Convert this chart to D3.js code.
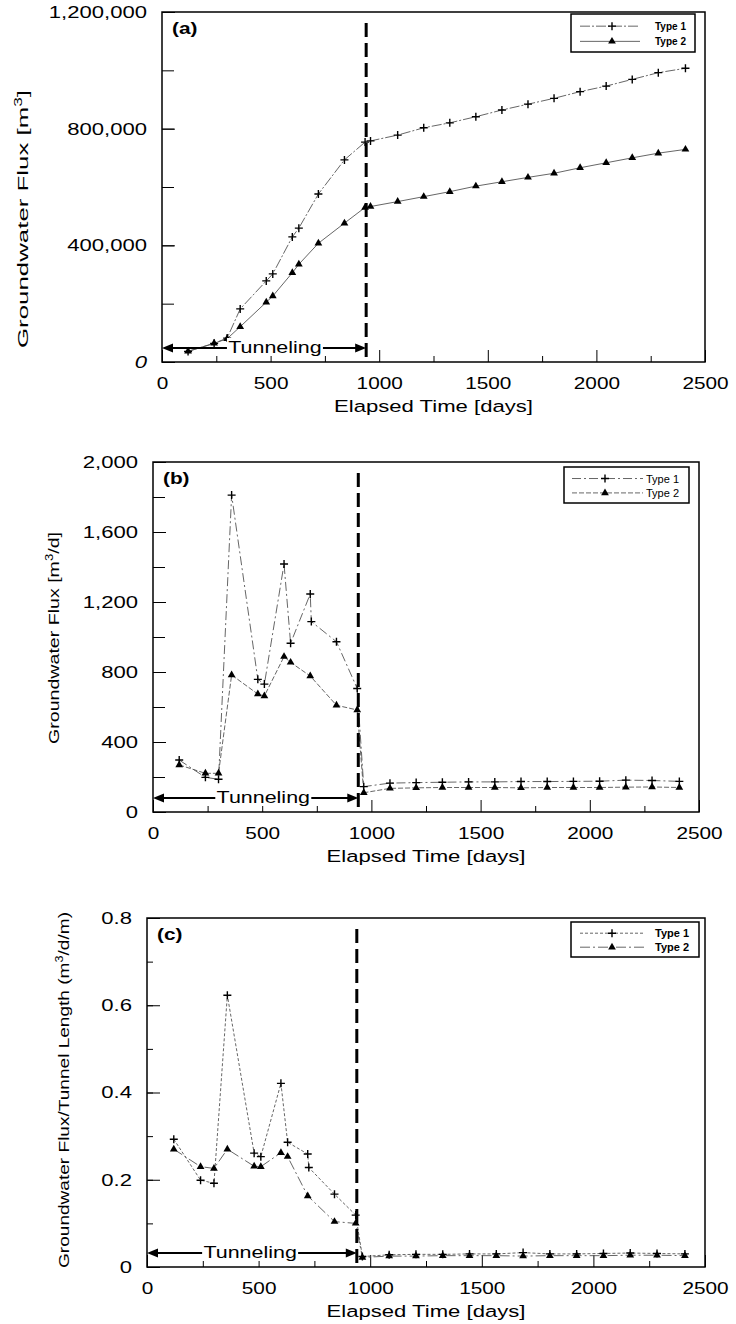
<!DOCTYPE html>
<html>
<head>
<meta charset="utf-8">
<script src="https://cdn.jsdelivr.net/npm/d3@7"></script>
<style>
  body { margin: 0; background: #fff; }
  text { font-family: Arial, "Liberation Sans", sans-serif; fill: #000; }
</style>
</head>
<body>
<div id="chart"></div>
<script>
// values (days since start of tunneling)
var daysA = [120, 240, 300, 360, 480, 510, 600, 630, 720, 840, 935, 960,
  1085, 1205, 1325, 1445, 1565, 1685, 1805, 1925, 2045, 2165, 2285, 2410];
var type1A = [36000, 64000, 82000, 182000, 278000, 302000, 429000, 459000, 576000, 693000, 754000, 758000,
  778000, 803000, 820000, 841000, 864000, 884000, 904000, 927000, 946000, 969000, 992000, 1007000];
var type2A = [37000, 64000, 80000, 121000, 205000, 226000, 306000, 335000, 407000, 476000, 530000, 533000,
  550000, 567000, 584000, 603000, 618000, 633000, 647000, 666000, 683000, 700000, 716000, 729000];

var daysBC = [120, 240, 300, 360, 480, 510, 600, 630, 720, 725, 840, 935, 965,
  1085, 1205, 1325, 1445, 1565, 1685, 1805, 1925, 2045, 2165, 2285, 2410];
var type1B = [297, 198, 187, 1811, 758, 731, 1417, 964, 1246, 1088, 973, 706, 145,
  165, 168, 170, 172, 172, 174, 174, 175, 176, 182, 180, 175];
var type2B = [269, 221, 221, 783, 674, 663, 888, 855, 777, null, 610, 583, 110,
  135, 138, 140, 140, 140, 138, 140, 140, 140, 142, 143, 140];

var type1C = [0.293, 0.199, 0.192, 0.623, 0.261, 0.253, 0.421, 0.286, 0.259, 0.228, 0.167, 0.119, 0.024,
  0.028, 0.029, 0.029, 0.030, 0.030, 0.033, 0.030, 0.030, 0.031, 0.032, 0.031, 0.030];
var type2C = [0.270, 0.230, 0.226, 0.270, 0.231, 0.230, 0.262, 0.253, 0.163, null, 0.104, 0.100, 0.022,
  0.025, 0.025, 0.026, 0.026, 0.026, 0.025, 0.026, 0.026, 0.026, 0.027, 0.027, 0.026];

var xTicks = [0, 500, 1000, 1500, 2000, 2500];
var yTicksA = [0, 400000, 800000, 1200000];
var yTicksB = [0, 400, 800, 1200, 1600, 2000];
var yTicksC = [0, 0.2, 0.4, 0.6, 0.8];
var seriesNames = ["Type 1", "Type 2"];
var tunnelEnd = 940;   // end of tunneling (dashed line)

var svgWidth = 736;
var svgHeight = 1324;
var SX = 1.3;   // the scanned figure has its lettering stretched sideways

var svg = d3.select("#chart")
  .append("svg")
  .attr("width", svgWidth)
  .attr("height", svgHeight);

svg.append("rect").attr("width", svgWidth).attr("height", svgHeight).attr("fill", "#fff");

var panels = [
  { tag: "(a)", left: 162, right: 705, top: 12, bottom: 362,
    days: daysA, s1: type1A, s2: type2A, yMax: 1200000, yTicks: yTicksA, yMinorStep: 200000,
    fmt: d3.format(","), minorLen: 12, italicZero: true,
    ylabel: ["Groundwater Flux [m", "3", "]"], ylx: 23, lyc: 219, ylen: 258,
    legend: { x: 571, y: 14, w: 124, h: 38, lx1: 580, lx2: 640, mx: 612, tx: 655, bold: true, fs: 10 },
    tunnelMid: 520, dash1: "10,2,2,2", dash2: null },
  { tag: "(b)", left: 153, right: 699, top: 462, bottom: 812,
    days: daysBC, s1: type1B, s2: type2B, yMax: 2000, yTicks: yTicksB, yMinorStep: 200,
    fmt: d3.format(","), minorLen: 12,
    ylabel: ["Groundwater Flux [m", "3", "/d]"], ylx: 54, lyc: 638, ylen: 212,
    legend: { x: 564, y: 467, w: 125, h: 36, lx1: 572, lx2: 643, mx: 605, tx: 646, bold: false, fs: 11 },
    tunnelMid: 505, dash1: "9,3,2,3", dash2: "5,2" },
  { tag: "(c)", left: 147, right: 705, top: 918, bottom: 1267,
    days: daysBC, s1: type1C, s2: type2C, yMax: 0.8, yTicks: yTicksC, yMinorStep: 0.1,
    fmt: d3.format(".1f"), minorLen: 6,
    ylabel: ["Groundwater Flux/Tunnel Length (m", "3", "/d/m)"], ylx: 64, lyc: 1090, ylen: 356,
    legend: { x: 571, y: 922, w: 128, h: 35, lx1: 580, lx2: 645, mx: 612, tx: 655, bold: true, fs: 11 },
    tunnelMid: 462, dash1: "3,2", dash2: "10,3,2,3" }
];

panels.forEach(function (p) {
  var g = svg.append("g");

  var xScale = d3.scaleLinear().domain([0, 2500]).range([p.left, p.right]);
  var yScale = d3.scaleLinear().domain([0, p.yMax]).range([p.bottom, p.top]);

  // minor x ticks, pointing in
  g.append("g")
    .attr("transform", `translate(0, ${p.bottom})`)
    .call(d3.axisBottom(xScale).tickValues(d3.range(250, 2500, 500)).tickSize(-6).tickFormat(""))
    .call(a => a.select(".domain").remove());

  // major x ticks + labels (no thousands comma on this axis)
  g.append("g")
    .attr("transform", `translate(0, ${p.bottom})`)
    .call(d3.axisBottom(xScale).tickValues(xTicks).tickSizeInner(-12).tickSizeOuter(0)
      .tickPadding(16).tickFormat(d3.format("d")))
    .call(a => a.select(".domain").remove())
    .call(a => a.selectAll("text")
      .style("font-size", "16px")
      .attr("transform", `scale(${SX},1)`));

  // y ticks
  var yMinor = d3.range(0, p.yMax + p.yMinorStep / 2, p.yMinorStep);
  g.append("g")
    .attr("transform", `translate(${p.left}, 0)`)
    .call(d3.axisLeft(yScale).tickValues(yMinor).tickSize(-p.minorLen).tickFormat(""))
    .call(a => a.select(".domain").remove());

  g.append("g")
    .attr("transform", `translate(${p.left}, 0)`)
    .call(d3.axisLeft(yScale).tickValues(p.yTicks).tickSizeInner(-13).tickSizeOuter(0)
      .tickFormat(d => d === 0 ? "0" : p.fmt(d)))
    .call(a => a.select(".domain").remove())
    .call(a => a.selectAll("text")
      .style("font-size", "17px")
      .style("font-style", d => (p.italicZero && d === 0) ? "italic" : null)
      .attr("x", -15 / SX)
      .attr("transform", `scale(${SX},1)`));

  // frame
  g.append("rect")
    .attr("x", p.left).attr("y", p.top)
    .attr("width", p.right - p.left).attr("height", p.bottom - p.top)
    .attr("fill", "none").attr("stroke", "#000").attr("stroke-width", 1.5);

  // series
  var line = d3.line().x(d => xScale(d.x)).y(d => yScale(d.y));
  var pts1 = p.days.map((d, i) => ({ x: d, y: p.s1[i] })).filter(d => d.y != null);
  var pts2 = p.days.map((d, i) => ({ x: d, y: p.s2[i] })).filter(d => d.y != null);

  g.append("path").datum(pts1).attr("d", line)
    .attr("fill", "none").attr("stroke", "#555").attr("stroke-width", 0.9)
    .attr("stroke-dasharray", p.dash1);
  g.append("path").datum(pts2).attr("d", line)
    .attr("fill", "none").attr("stroke", "#555").attr("stroke-width", 0.9)
    .attr("stroke-dasharray", p.dash2);

  g.selectAll(".plus").data(pts1).enter()
    .append("path")
    .attr("d", "M-4,0H4M0,-4V4")
    .attr("transform", d => `translate(${xScale(d.x)}, ${yScale(d.y)})`)
    .attr("stroke", "#000").attr("stroke-width", 1.4);

  g.selectAll(".tri").data(pts2).enter()
    .append("path")
    .attr("d", d3.symbol(d3.symbolTriangle, 26))
    .attr("transform", d => `translate(${xScale(d.x)}, ${yScale(d.y)})`)
    .attr("fill", "#000");

  // tunneling arrow
  var ay = p.bottom - 14;
  var x0 = xScale(0), x1 = xScale(tunnelEnd), tx = xScale(p.tunnelMid);
  var half = 48;
  g.append("rect")
    .attr("x", tx - half).attr("y", ay - 10)
    .attr("width", half * 2).attr("height", 18)
    .attr("fill", "#fff");
  g.append("text")
    .attr("transform", `translate(${tx}, ${ay + 5}) scale(${SX},1)`)
    .attr("text-anchor", "middle")
    .style("font-size", "16.5px")
    .text("Tunneling");
  g.append("path")
    .attr("d", `M${x0 + 10},${ay}H${tx - half}M${tx + half},${ay}H${x1 - 10}`)
    .attr("stroke", "#000").attr("stroke-width", 2);
  g.append("path")
    .attr("d", `M${x0},${ay}l11,-4.5v9z M${x1},${ay}l-11,-4.5v9z`)
    .attr("fill", "#000");

  // end of tunneling
  g.append("line")
    .attr("x1", x1).attr("x2", x1)
    .attr("y1", p.top + 11).attr("y2", p.bottom)
    .attr("stroke", "#000").attr("stroke-width", 3)
    .attr("stroke-dasharray", "14,6");

  // panel tag
  g.append("text")
    .attr("transform", `translate(${p.left + 10}, ${p.top + 22}) scale(${SX},1)`)
    .style("font-size", "16px").style("font-weight", "bold")
    .text(p.tag);

  // legend
  var L = p.legend;
  var lg = g.append("g");
  lg.append("rect")
    .attr("x", L.x).attr("y", L.y).attr("width", L.w).attr("height", L.h)
    .attr("fill", "#fff").attr("stroke", "#000").attr("stroke-width", 1.5);
  seriesNames.forEach(function (name, i) {
    var ry = L.y + L.h * (i === 0 ? 0.32 : 0.72);
    lg.append("line")
      .attr("x1", L.lx1).attr("x2", L.lx2).attr("y1", ry).attr("y2", ry)
      .attr("stroke", "#555").attr("stroke-width", 0.9)
      .attr("stroke-dasharray", i === 0 ? p.dash1 : p.dash2);
    if (i === 0) {
      lg.append("path").attr("d", "M-4,0H4M0,-4V4")
        .attr("transform", `translate(${L.mx}, ${ry})`)
        .attr("stroke", "#000").attr("stroke-width", 1.4);
    } else {
      lg.append("path").attr("d", d3.symbol(d3.symbolTriangle, 26))
        .attr("transform", `translate(${L.mx}, ${ry})`)
        .attr("fill", "#000");
    }
    lg.append("text")
      .attr("x", L.tx).attr("y", ry + 4)
      .style("font-size", L.fs + "px")
      .style("font-weight", L.bold ? "bold" : null)
      .text(name);
  });

  // axis titles
  g.append("text")
    .attr("transform", `translate(${(p.left + p.right) / 2}, ${p.bottom + 50}) scale(${SX},1)`)
    .attr("text-anchor", "middle")
    .style("font-size", "17px")
    .text("Elapsed Time [days]");

  // rotated y title: plain text, superscript 3, then the rest
  var yl = g.append("text")
    .attr("transform", `translate(${p.ylx}, ${p.lyc}) rotate(-90)`)
    .attr("text-anchor", "middle")
    .attr("dy", "0.35em")
    .attr("textLength", p.ylen)
    .attr("lengthAdjust", "spacingAndGlyphs")
    .style("font-size", "15px");
  yl.append("tspan").text(p.ylabel[0]);
  yl.append("tspan").attr("dy", -6).style("font-size", "10px").text(p.ylabel[1]);
  yl.append("tspan").attr("dy", 6).text(p.ylabel[2]);
});
</script>
</body>
</html>
